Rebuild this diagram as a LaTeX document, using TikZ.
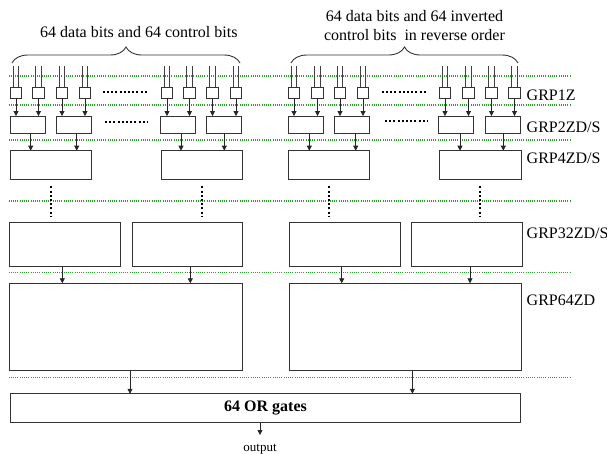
\documentclass[tikz,border=0pt]{standalone}
\usepackage{fontspec}
\setmainfont{Liberation Serif}
\usetikzlibrary{arrows.meta,decorations.pathreplacing}
\definecolor{grline}{RGB}{40,165,40}
\begin{document}
\begin{tikzpicture}[x=1pt,y=-1pt,
  box/.style={draw=black!80, line width=0.9pt, inner sep=0pt, outer sep=0pt},
  sbox/.style={box, minimum width=11.5pt, minimum height=11pt},
  boxtwo/.style={box, minimum width=35pt, minimum height=17.3pt},
  boxfour/.style={box, minimum width=81.6pt, minimum height=28.6pt},
  boxtt/.style={box, minimum width=110.7pt, minimum height=43.3pt},
  boxsf/.style={box, minimum width=232.8pt, minimum height=86.7pt},
  arr/.style={draw=black!85, line width=0.8pt, -{Triangle[length=5pt,width=5pt]}},
  inp/.style={draw=black!75, line width=0.8pt},
  grn/.style={draw=grline, line width=1.1pt, dash pattern=on 1pt off 1.2pt},
  dts/.style={draw=black, line width=2pt, dash pattern=on 2pt off 2.2pt},
  lbl/.style={font=\fontsize{16}{19}\selectfont, inner sep=0pt, anchor=base west},
  txt/.style={font=\fontsize{16}{19}\selectfont, inner sep=0pt},
  brc/.style={draw=black!80, line width=0.9pt, decorate, decoration={brace, amplitude=16pt}}
]
\useasboundingbox (0,0) rectangle (607,453);

% green separators
\foreach \y in {76,105,140,201,272.7,377.3} \draw[grn] (8.5,\y) -- (571,\y);

% GRP1Z small boxes with inputs
\foreach \x [count=\i] in {16,38.5,62,85,167,189.5,212.5,236} {
  \node[sbox] (sa\i) at (\x,92.8) {};
  \draw[inp] ([xshift=-2.8pt]sa\i.north) -- ++(0,-21.8);
  \draw[inp] ([xshift=2.8pt]sa\i.north) -- ++(0,-21.8);
}
\foreach \x [count=\i] in {294,317.5,340,363,445,468.5,491.5,514.5} {
  \node[sbox] (sb\i) at (\x,92.8) {};
  \draw[inp] ([xshift=-2.8pt]sb\i.north) -- ++(0,-21.8);
  \draw[inp] ([xshift=2.8pt]sb\i.north) -- ++(0,-21.8);
}

% GRP2 boxes
\foreach \x [count=\i] in {27.5,73.8,178.3,224.2} \node[boxtwo] (ga\i) at (\x,124.7) {};
\foreach \x [count=\i] in {305.5,351.8,456,502.5} \node[boxtwo] (gb\i) at (\x,124.7) {};

\foreach \i [evaluate=\i as \j using {int((\i+1)/2)}] in {1,...,8} {
  \draw[arr] (sa\i.south) -- (sa\i.south |- ga\j.north);
  \draw[arr] (sb\i.south) -- (sb\i.south |- gb\j.north);
}

% GRP4 boxes
\node[boxfour] (fa1) at (50.8,165) {};
\node[boxfour] (fa2) at (201.8,165) {};
\node[boxfour] (fb1) at (329,165) {};
\node[boxfour] (fb2) at (480.2,165) {};

\draw[arr] ([xshift=3.2pt]ga1.south) -- ([xshift=-20.1pt]fa1.north);
\draw[arr] ([xshift=2.9pt]ga2.south) -- ([xshift=25.9pt]fa1.north);
\draw[arr] ([xshift=2.7pt]ga3.south) -- ([xshift=-20.8pt]fa2.north);
\draw[arr] ([xshift=0.1pt]ga4.south) -- ([xshift=22.5pt]fa2.north);
\draw[arr] ([xshift=3.8pt]gb1.south) -- ([xshift=-19.7pt]fb1.north);
\draw[arr] ([xshift=3.9pt]gb2.south) -- ([xshift=26.7pt]fb1.north);
\draw[arr] ([xshift=4pt]gb3.south) -- ([xshift=-20.2pt]fb2.north);
\draw[arr] ([xshift=0.8pt]gb4.south) -- ([xshift=23.1pt]fb2.north);

% ellipsis dots
\draw[dts] (102.7,92.3) -- (146.7,92.3);
\draw[dts] (105,121.7) -- (148.3,121.7);
\draw[dts] (381.7,92.3) -- (426.7,92.3);
\draw[dts] (385,120.7) -- (428.3,120.7);
\foreach \n in {fa1,fa2,fb1,fb2} \draw[dts] ([yshift=-7pt]\n.south) -- ++(0,30.7);

% GRP32 boxes
\node[boxtt] (ha1) at (65,244.35) {};
\node[boxtt] (ha2) at (187.3,244.35) {};
\node[boxtt] (hb1) at (344.7,244.35) {};
\node[boxtt] (hb2) at (466.6,244.35) {};

% GRP64 boxes
\node[boxsf] (ka) at (126.2,326.65) {};
\node[boxsf] (kb) at (405.5,326.65) {};

\draw[arr] ([xshift=-2.7pt]ha1.south) -- ([xshift=-63.9pt]ka.north);
\draw[arr] ([xshift=3pt]ha2.south) -- ([xshift=64.1pt]ka.north);
\draw[arr] ([xshift=-3pt]hb1.south) -- ([xshift=-63.8pt]kb.north);
\draw[arr] ([xshift=3.4pt]hb2.south) -- ([xshift=64.5pt]kb.north);

% OR gates
\node[box, minimum width=510pt, minimum height=29pt, font=\fontsize{16}{19}\selectfont\bfseries] (org) at (265.5,408.25) {64 OR gates};
\draw[arr] ([xshift=3.8pt]ka.south) -- ([xshift=-135.5pt]org.north);
\draw[arr] ([xshift=6.9pt]kb.south) -- ([xshift=146.9pt]org.north);
\coordinate (oend) at (260,435);
\draw[arr] ([xshift=-5.5pt]org.south) -- (oend);
\node[font=\fontsize{13}{15}\selectfont, anchor=base, inner sep=0pt] (outl) at (260,451.5) {output};

% labels
\node[lbl] (l1) at (526.5,100.3) {GRP1Z};
\node[lbl] (l2) at (526.5,132.6) {GRP2ZD/S};
\node[lbl] (l3) at (526.5,163.6) {GRP4ZD/S};
\node[lbl] (l4) at (526.5,238.6) {GRP32ZD/S};
\node[lbl] (l5) at (526.5,305.3) {GRP64ZD};

% braces and captions
\coordinate (bl1) at (12,63);
\coordinate (bl2) at (240,63);
\coordinate (br1) at (291,63);
\coordinate (br2) at (518,63);
\draw[brc] (bl1) -- (bl2);
\draw[brc] (br1) -- (br2);
\node[txt, anchor=base] (t1) at (138.8,37) {64 data bits and 64 control bits};
\node[txt, align=center] (t2) at (414.5,25.8) {64 data bits and 64 inverted\\control bits\ \ in reverse order};
\end{tikzpicture}
\end{document}
